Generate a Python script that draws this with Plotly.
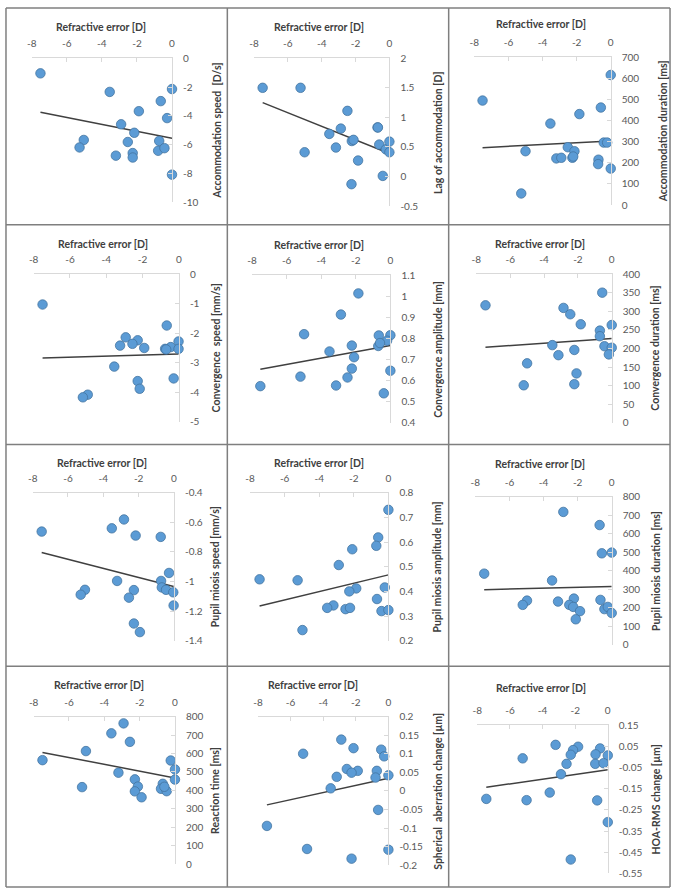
import plotly.graph_objects as go

W, H = 675, 895

# ---------------- data ----------------
x_ticks = [-8, -6, -4, -2, 0]
x_tick_labels = ["-8", "-6", "-4", "-2", "0"]
x_title = "Refractive error [D]"

# 1 Accommodation speed
acc_speed_x = [-7.5, -3.55, 0, -0.64, -1.89, -0.28, -2.9, -2.15, -5.03, -5.27, -2.52, -0.73, -0.79, -0.43, -3.2, -2.24, -2.24, 0]
acc_speed_y = [-1.05, -2.34, -2.14, -2.98, -3.68, -4.16, -4.59, -5.18, -5.68, -6.2, -5.82, -5.75, -6.43, -6.25, -6.77, -6.59, -6.9, -8.09]
acc_speed_trend = [-3.75, -5.57]
acc_speed_ticks = [0, -2, -4, -6, -8, -10]
acc_speed_labels = ["0", "-2", "-4", "-6", "-8", "-10"]

# 2 Lag of accommodation
lag_x = [-7.49, -5.25, -5.01, -3.55, -3.16, -2.87, -2.48, -2.22, -2.12, -2.24, -1.85, -0.7, -0.68, -0.6, -0.39, -0.21, 0, 0]
lag_y = [1.5, 1.5, 0.41, 0.72, 0.49, 0.81, 1.11, 0.6, 0.62, -0.13, 0.27, 0.83, 0.83, 0.54, 0.01, 0.46, 0.59, 0.41]
lag_trend = [1.25, 0.39]
lag_ticks = [2, 1.5, 1, 0.5, 0, -0.5]
lag_labels = ["2", "1.5", "1", "0.5", "0", "-0.5"]

# 3 Accommodation duration
acc_dur_x = [-7.52, 0, -0.58, -1.84, -3.54, -5.0, -5.25, -2.52, -2.13, -3.19, -2.9, -2.25, -2.2, -0.72, -0.74, -0.41, -0.21, 0]
acc_dur_y = [495, 616, 462, 431, 386, 255, 55, 274, 255, 221, 224, 224, 230, 215, 194, 296, 296, 173]
acc_dur_trend = [272, 303]
acc_dur_ticks = [700, 600, 500, 400, 300, 200, 100, 0]
acc_dur_labels = ["700", "600", "500", "400", "300", "200", "100", "0"]

# 4 Convergence speed
conv_speed_x = [-7.51, -0.67, -2.93, -2.27, -3.24, -2.56, -1.91, -0.02, -0.45, -0.76, -0.7, -0.02, -3.56, -0.29, -2.27, -2.16, -5.02, -5.29]
conv_speed_y = [-1.03, -1.74, -2.14, -2.24, -2.42, -2.36, -2.5, -2.28, -2.47, -2.53, -2.55, -2.53, -3.13, -3.53, -3.62, -3.88, -4.08, -4.17]
conv_speed_trend = [-2.84, -2.7]
conv_speed_ticks = [0, -1, -2, -3, -4, -5]
conv_speed_labels = ["0", "-1", "-2", "-3", "-4", "-5"]

# 5 Convergence amplitude
conv_amp_x = [-1.85, -2.86, -4.99, -0.67, 0, -0.19, -2.23, -0.7, -0.6, -3.52, -2.1, -2.23, 0, -5.2, -2.48, -7.52, -3.14, -0.38]
conv_amp_y = [1.013, 0.913, 0.82, 0.814, 0.815, 0.789, 0.766, 0.764, 0.778, 0.738, 0.711, 0.657, 0.647, 0.619, 0.615, 0.574, 0.577, 0.54]
conv_amp_trend = [0.654, 0.766]
conv_amp_ticks = [1.1, 1.0, 0.9, 0.8, 0.7, 0.6, 0.5, 0.4]
conv_amp_labels = ["1.1", "1", "0.9", "0.8", "0.7", "0.6", "0.5", "0.4"]

# 6 Convergence duration
conv_dur_x = [-0.56, -7.46, -2.85, -2.45, -1.83, 0, -0.7, -0.7, -0.43, 0, -0.17, -3.51, -2.21, -3.15, -5.0, -2.08, -5.2, -2.21]
conv_dur_y = [350, 316, 309, 292, 265, 263, 248, 233, 206, 202, 184, 209, 196, 182, 160, 133, 101, 104]
conv_dur_trend = [203, 227]
conv_dur_ticks = [400, 350, 300, 250, 200, 150, 100, 50, 0]
conv_dur_labels = ["400", "350", "300", "250", "200", "150", "100", "50", "0"]

# 7 Pupil miosis speed
pup_speed_x = [-2.83, -3.52, -7.49, -2.17, -0.75, -0.28, -3.22, -0.73, -0.69, -0.45, -0.04, -5.04, -5.28, -2.27, -2.55, -0.02, -2.27, -1.93]
pup_speed_y = [-0.58, -0.64, -0.662, -0.689, -0.698, -0.942, -0.996, -0.996, -1.04, -1.056, -1.073, -1.056, -1.089, -1.058, -1.109, -1.162, -1.284, -1.342]
pup_speed_trend = [-0.804, -1.033]
pup_speed_ticks = [-0.4, -0.6, -0.8, -1.0, -1.2, -1.4]
pup_speed_labels = ["-0.4", "-0.6", "-0.8", "-1", "-1.2", "-1.4"]

# 8 Pupil miosis amplitude
pup_amp_x = [0, -0.59, -0.7, -2.09, -2.87, -7.45, -5.25, -0.21, -1.86, -2.26, -0.66, -3.18, -3.54, -2.48, -2.22, -0.4, 0, -4.97]
pup_amp_y = [0.731, 0.619, 0.585, 0.571, 0.507, 0.449, 0.445, 0.416, 0.412, 0.4, 0.369, 0.343, 0.333, 0.328, 0.333, 0.32, 0.324, 0.243]
pup_amp_trend = [0.341, 0.467]
pup_amp_ticks = [0.8, 0.7, 0.6, 0.5, 0.4, 0.3, 0.2]
pup_amp_labels = ["0.8", "0.7", "0.6", "0.5", "0.4", "0.3", "0.2"]

# 9 Pupil miosis duration
pup_dur_x = [-2.84, -0.71, -0.58, 0, -7.48, -3.5, -0.66, -2.22, -4.97, -5.22, -3.15, -2.49, -2.26, -1.86, -0.43, -0.23, 0, -2.11]
pup_dur_y = [718, 647, 494, 498, 384, 347, 242, 249, 238, 215, 233, 215, 204, 181, 192, 204, 171, 137]
pup_dur_trend = [297, 315]
pup_dur_ticks = [800, 700, 600, 500, 400, 300, 200, 100, 0]
pup_dur_labels = ["800", "700", "600", "500", "400", "300", "200", "100", "0"]

# 10 Reaction time
react_x = [-2.91, -3.6, -2.55, -5.04, -7.5, -0.24, 0, -3.2, 0, -2.27, -2.1, -0.69, -0.79, -0.47, -5.26, -2.27, -1.89, -0.6]
react_y = [763, 709, 663, 613, 564, 562, 514, 496, 459, 460, 421, 436, 409, 396, 418, 395, 363, 420]
react_trend = [606, 468]
react_ticks = [800, 700, 600, 500, 400, 300, 200, 100, 0]
react_labels = ["800", "700", "600", "500", "400", "300", "200", "100", "0"]

# 11 Spherical aberration change
sa_x = [-2.89, -2.14, -0.44, -0.26, -5.23, -2.55, -1.88, -2.26, -0.71, -0.79, 0, -3.17, -3.54, -0.63, -7.45, -4.99, 0, -2.26]
sa_y = [0.138, 0.115, 0.111, 0.093, 0.1, 0.059, 0.054, 0.049, 0.054, 0.036, 0.042, 0.038, 0.007, -0.051, -0.094, -0.156, -0.158, -0.182]
sa_trend = [-0.0375, 0.034]
sa_ticks = [0.2, 0.15, 0.1, 0.05, 0, -0.05, -0.1, -0.15, -0.2]
sa_labels = ["0.2", "0.15", "0.1", "0.05", "0", "-0.05", "-0.1", "-0.15", "-0.2"]

# 12 HOA-RMS change
hoa_x = [-3.2, -1.82, -2.13, -0.47, -2.27, -0.75, 0, -5.22, -2.53, -0.77, -0.26, -2.87, -3.56, -7.45, -4.98, -0.65, 0, -2.27]
hoa_y = [0.058, 0.049, 0.033, 0.041, 0.011, 0.013, 0.008, -0.006, -0.032, -0.032, -0.029, -0.081, -0.168, -0.198, -0.204, -0.205, -0.308, -0.485]
hoa_trend = [-0.143, -0.06]
hoa_ticks = [0.15, 0.05, -0.05, -0.15, -0.25, -0.35, -0.45, -0.55]
hoa_labels = ["0.15", "0.05", "-0.05", "-0.15", "-0.25", "-0.35", "-0.45", "-0.55"]

NB = "\u00a0"
panels = [
    (acc_speed_x, acc_speed_y, acc_speed_trend, acc_speed_ticks, acc_speed_labels, "Accommodation speed" + NB + " [D/s]"),
    (lag_x, lag_y, lag_trend, lag_ticks, lag_labels, "Lag of accommodation [D]"),
    (acc_dur_x, acc_dur_y, acc_dur_trend, acc_dur_ticks, acc_dur_labels, "Accommodation duration [ms]"),
    (conv_speed_x, conv_speed_y, conv_speed_trend, conv_speed_ticks, conv_speed_labels, "Convergence" + NB + " speed [mm/s]"),
    (conv_amp_x, conv_amp_y, conv_amp_trend, conv_amp_ticks, conv_amp_labels, "Convergence amplitude [mm]"),
    (conv_dur_x, conv_dur_y, conv_dur_trend, conv_dur_ticks, conv_dur_labels, "Convergence duration [ms]"),
    (pup_speed_x, pup_speed_y, pup_speed_trend, pup_speed_ticks, pup_speed_labels, "Pupil miosis speed [mm/s]"),
    (pup_amp_x, pup_amp_y, pup_amp_trend, pup_amp_ticks, pup_amp_labels, "Pupil miosis amplitude [mm]"),
    (pup_dur_x, pup_dur_y, pup_dur_trend, pup_dur_ticks, pup_dur_labels, "Pupil miosis duration [ms]"),
    (react_x, react_y, react_trend, react_ticks, react_labels, "Reaction time [ms]"),
    (sa_x, sa_y, sa_trend, sa_ticks, sa_labels, "Spherical" + NB + " aberration change [µm]"),
    (hoa_x, hoa_y, hoa_trend, hoa_ticks, hoa_labels, "HOA-RMS change [µm]"),
]

# ---------------- layout geometry (pixels) ----------------
# plot x0, x1, y_top, y_bottom, x-title centre (x, y), y-title centre x
geom = [
    (27, 169, 52, 198, 97, 20, 215),
    (252, 389, 52, 202, 318, 20, 438),
    (475, 613, 51, 201, 542, 17, 666),
    (29, 176, 271, 421, 99, 241, 213),
    (250, 390, 272, 422, 318, 242, 438),
    (477, 614, 271, 422, 541, 241, 658),
    (28, 171, 493, 643, 98, 463, 212),
    (248, 388, 493, 643, 318, 463, 437),
    (476, 614, 497, 647, 541, 464, 658),
    (29, 172, 720, 870, 95, 688, 213),
    (256, 388, 720, 871, 312, 688, 438),
    (478, 610, 729, 879, 542, 691, 659),
]

FONT = "Lato"
AXIS_COL = "#d9d9d9"
TICK_FONT = dict(family=FONT, size=10, color="#595959")
TITLE_FONT = dict(family=FONT, size=10.5, color="#404040", weight="bold")

fig = go.Figure()
annotations = []
layout = {}
for i, ((xs, ys, tr, yt, yl, ytitle), (x0, x1, yt0, yb0, txx, txy, tyx)) in enumerate(zip(panels, geom)):
    n = "" if i == 0 else str(i + 1)
    xref, yref = "x" + n, "y" + n
    fig.add_trace(go.Scatter(
        x=[min(xs), max(xs)], y=tr, mode="lines", xaxis=xref, yaxis=yref,
        line=dict(color="#404040", width=1.5), showlegend=False, hoverinfo="skip"))
    fig.add_trace(go.Scatter(
        x=xs, y=ys, mode="markers", xaxis=xref, yaxis=yref, cliponaxis=False,
        marker=dict(size=9.5, color="#5b9bd5", line=dict(color="#41719c", width=0.75)),
        showlegend=False))
    layout["xaxis" + n] = dict(
        domain=[x0 / W, x1 / W], range=[-8, 0], side="top", anchor=yref,
        showline=True, linecolor=AXIS_COL, linewidth=1,
        ticks="inside", tickcolor=AXIS_COL, ticklen=4,
        tickvals=x_ticks, ticktext=x_tick_labels, tickfont=TICK_FONT,
        ticklabelstandoff=6, showgrid=False, zeroline=False)
    layout["yaxis" + n] = dict(
        domain=[1 - yb0 / H, 1 - yt0 / H], range=[min(yt), max(yt)], side="right", anchor=xref,
        showline=True, linecolor=AXIS_COL, linewidth=1,
        ticks="inside", tickcolor=AXIS_COL, ticklen=4,
        tickvals=yt, ticktext=yl, tickfont=TICK_FONT,
        ticklabelstandoff=8, showgrid=False, zeroline=False)
    annotations.append(dict(text=x_title, x=txx / W, y=1 - txy / H, xref="paper", yref="paper",
                            xanchor="center", yanchor="middle", showarrow=False, font=TITLE_FONT))
    annotations.append(dict(text=ytitle, x=tyx / W, y=1 - (yt0 + yb0) / 2 / H, xref="paper", yref="paper",
                            xanchor="center", yanchor="middle", textangle=-90, showarrow=False, font=TITLE_FONT))

shapes = []
for xp in [1, 225, 449, 673]:
    shapes.append(dict(type="line", xref="paper", yref="paper", x0=xp / W, x1=xp / W, y0=1 - 1 / H, y1=1 - 893 / H,
                       line=dict(color="#7f7f7f", width=1.5)))
for yp in [1, 221, 444, 669, 893]:
    shapes.append(dict(type="line", xref="paper", yref="paper", x0=1 / W, x1=673 / W, y0=1 - yp / H, y1=1 - yp / H,
                       line=dict(color="#7f7f7f", width=1.5)))

fig.update_layout(
    width=W, height=H, margin=dict(l=0, r=0, t=0, b=0),
    paper_bgcolor="white", plot_bgcolor="white", hovermode=False,
    annotations=annotations, shapes=shapes, **layout)

fig.write_html("out.html", config={"displayModeBar": False, "staticPlot": True},
               post_script="document.body.style.margin='0';document.body.style.overflow='hidden';")
